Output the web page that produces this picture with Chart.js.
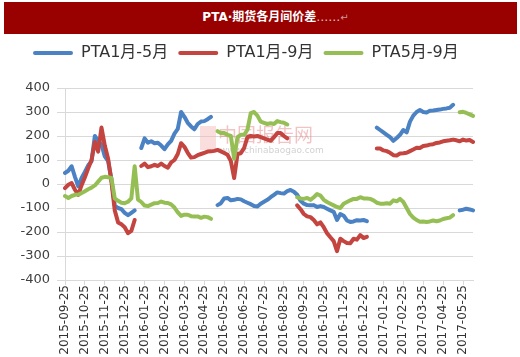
<!DOCTYPE html>
<html><head><meta charset="utf-8">
<script src="https://cdn.jsdelivr.net/npm/chart.js@4.4.0/dist/chart.umd.min.js"></script>
<style>
html,body{margin:0;padding:0;background:#fff;overflow:hidden;}
#wrap{position:relative;width:520px;height:357px;overflow:hidden;}
#banner{position:absolute;left:4px;top:2px;width:513px;height:32px;background:#990000;color:#fff;font:bold 12px "DejaVu Sans","Noto Sans CJK SC",sans-serif;line-height:30px;text-align:center;box-sizing:border-box;padding-left:30px;}
#banner .d{color:#e8c4c4;font-weight:normal;}
#banner .r{color:#c99;font-weight:normal;font-size:10px;}
canvas{position:absolute;left:0;top:0;}
</style></head><body>
<div id="wrap"><canvas id="c" width="520" height="357"></canvas><div id="banner">PTA·期货各月间价差<span class="d">……</span><span class="r">↵</span></div></div>
<script>
const dates = [
'2015-09-25','2015-09-30',
'2015-10-05','2015-10-10','2015-10-15','2015-10-20','2015-10-25','2015-10-30',
'2015-11-05','2015-11-10','2015-11-15','2015-11-20','2015-11-25','2015-11-30',
'2015-12-05','2015-12-10','2015-12-15','2015-12-20','2015-12-25','2015-12-30',
'2016-01-05','2016-01-10','2016-01-15','2016-01-20','2016-01-25','2016-01-30',
'2016-02-05','2016-02-10','2016-02-15','2016-02-20','2016-02-25','2016-02-29',
'2016-03-05','2016-03-10','2016-03-15','2016-03-20','2016-03-25','2016-03-30',
'2016-04-05','2016-04-10','2016-04-15','2016-04-20','2016-04-25','2016-04-30',
'2016-05-05','2016-05-10','2016-05-15','2016-05-20','2016-05-25','2016-05-30',
'2016-06-05','2016-06-10','2016-06-15','2016-06-20','2016-06-25','2016-06-30',
'2016-07-05','2016-07-10','2016-07-15','2016-07-20','2016-07-25','2016-07-30',
'2016-08-05','2016-08-10','2016-08-15','2016-08-20','2016-08-25','2016-08-30',
'2016-09-05','2016-09-10','2016-09-15','2016-09-20','2016-09-25','2016-09-30',
'2016-10-05','2016-10-10','2016-10-15','2016-10-20','2016-10-25','2016-10-30',
'2016-11-05','2016-11-10','2016-11-15','2016-11-20','2016-11-25','2016-11-30',
'2016-12-05','2016-12-10','2016-12-15','2016-12-20','2016-12-25','2016-12-30',
'2017-01-05','2017-01-10','2017-01-15','2017-01-20','2017-01-25','2017-01-30',
'2017-02-05','2017-02-10','2017-02-15','2017-02-20','2017-02-25','2017-02-28',
'2017-03-05','2017-03-10','2017-03-15','2017-03-20','2017-03-25','2017-03-30',
'2017-04-05','2017-04-10','2017-04-15','2017-04-20','2017-04-25','2017-04-30',
'2017-05-05','2017-05-10','2017-05-15','2017-05-20','2017-05-25','2017-05-30',
'2017-06-05','2017-06-10'
];

const tickLabels = [
'2015-09-25','2015-10-25','2015-11-25','2015-12-25','2016-01-25','2016-02-25','2016-03-25',
'2016-04-25','2016-05-25','2016-06-25','2016-07-25','2016-08-25','2016-09-25','2016-10-25',
'2016-11-25','2016-12-25','2017-01-25','2017-02-25','2017-03-25','2017-04-25','2017-05-25'
];

const seriesNames = ['PTA1月-5月','PTA1月-9月','PTA5月-9月'];

const spread1_5 = [
46,55,74,30,-10,25,50,78,95,200,
180,165,115,95,20,-90,-100,-105,-120,-130,
-120,-110,null,150,190,172,178,170,172,160,
145,165,180,210,230,300,280,255,240,228,
250,260,262,270,280,null,-88,-80,-60,-58,
-68,-66,-62,-64,-72,-78,-84,-92,-94,-82,
-74,-66,-55,-45,-35,-38,-40,-30,-25,-32,
-45,-70,-82,-88,-89,-88,-96,-92,-96,-103,
-110,-116,-150,-125,-132,-152,-158,-156,-151,-152,
-150,-155,null,null,235,225,215,205,195,180,
192,205,225,215,260,285,300,308,300,298,
305,306,308,310,313,315,318,330,null,-110,
-107,-103,-106,-110
];

const spread1_9 = [
-17,-3,4,-24,-45,-5,28,65,100,175,
135,235,160,105,10,-110,-160,-168,-180,-205,
-195,-150,null,75,85,70,74,80,75,85,
75,68,90,100,125,170,155,130,110,112,
120,125,130,135,136,138,142,136,129,122,
95,25,125,128,150,195,200,198,200,195,
190,185,180,195,212,212,200,190,null,null,
-89,-105,-125,-135,-138,-150,-168,-160,-180,-205,
-222,-238,-280,-228,-238,-246,-247,-228,-232,-213,
-225,-220,null,null,148,148,140,137,130,120,
119,127,128,130,137,144,151,150,158,160,
164,166,171,173,178,180,182,185,182,178,
185,181,183,175
];

const spread5_9 = [
-50,-58,-50,-45,-44,-38,-30,-22,-15,-6,
10,26,30,28,25,-60,-70,-78,-80,-74,
-60,74,-65,-75,-90,-92,-86,-80,-79,-73,
-78,-79,-85,-98,-118,-133,-128,-128,-134,-135,
-135,-141,-136,-138,-145,null,220,212,212,205,
200,105,195,205,205,226,295,300,285,260,
255,250,253,250,262,258,255,248,null,null,
-55,-60,-62,-58,-66,-55,-42,-48,-66,-75,
-82,-89,-96,-100,-82,-75,-68,-62,-62,-55,
-60,-60,-62,-68,-78,-82,-82,-80,-82,-68,
-72,-62,-75,-100,-125,-140,-150,-157,-156,-158,
-156,-152,-155,-152,-146,-143,-140,-130,null,299,
301,296,290,284
];

const COLORS = ['#4a82c3','#c4443f','#95bf55'];
const FONT = '"DejaVu Sans", "Noto Sans CJK SC", sans-serif';
const GRID = '#d9d9d9';

const legendFix = {
  id: 'legendFix',
  beforeInit(chart) {
    const lg = chart.legend;
    const fit = lg.fit;
    lg.fit = function () { fit.call(this); this.height = 53; };
  },
  afterLayout(chart) {
    chart.legend.left = 23;
    chart.legend.right = 520;
  }
};

const watermark = {
  id: 'watermark',
  beforeDatasetsDraw(chart) {
    const c = chart.ctx;
    c.save();
    c.globalAlpha = 0.45;
    c.fillStyle = '#f3b6b6';
    c.fillRect(200, 126, 16, 24);
    c.fillStyle = '#e07a7a';
    c.font = '19px "Noto Sans CJK SC"';
    c.textBaseline = 'middle';
    c.fillText('中国报告网', 218, 135);
    c.fillStyle = '#9a9a9a';
    c.font = '9px "DejaVu Sans"';
    c.fillText('www.chinabaogao.com', 220, 151);
    c.restore();
  }
};

const isTick = (i) => tickLabels.includes(dates[i]);

new Chart(document.getElementById('c'), {
  type: 'line',
  data: {
    labels: dates,
    datasets: [
      { label: seriesNames[0], data: spread1_5, borderColor: COLORS[0], backgroundColor: COLORS[0], order: 3 },
      { label: seriesNames[1], data: spread1_9, borderColor: COLORS[1], backgroundColor: COLORS[1], order: 2 },
      { label: seriesNames[2], data: spread5_9, borderColor: COLORS[2], backgroundColor: COLORS[2], order: 1 }
    ]
  },
  options: {
    responsive: false,
    animation: false,
    devicePixelRatio: 1,
    spanGaps: false,
    layout: { padding: { left: 0, right: 47, top: 35, bottom: 0 } },
    elements: {
      point: { radius: 0 },
      line: { borderWidth: 4, tension: 0, borderJoinStyle: 'round', borderCapStyle: 'round' }
    },
    plugins: {
      tooltip: { enabled: false },
      legend: {
        position: 'top',
        align: 'start',
        labels: {
          font: { family: FONT, size: 16 },
          color: '#333',
          boxWidth: 40,
          boxHeight: 4,
          padding: 10,
          useBorderRadius: true,
          borderRadius: 2,
          sort: (a, b) => a.datasetIndex - b.datasetIndex,
          generateLabels: (chart) => Chart.defaults.plugins.legend.labels.generateLabels(chart).map(l => {
            l.lineWidth = 0; l.fillStyle = l.strokeStyle; return l;
          })
        }
      }
    },
    scales: {
      x: {
        type: 'category',
        grid: {
          drawOnChartArea: false,
          drawTicks: true,
          tickLength: 5,
          color: (ctx) => (isTick(ctx.index) ? GRID : 'rgba(0,0,0,0)')
        },
        border: { color: GRID },
        ticks: {
          autoSkip: false,
          maxRotation: 90,
          minRotation: 90,
          padding: 0,
          font: { family: FONT, size: 12 },
          color: '#333',
          callback: function (v, i) { return isTick(i) ? dates[i] : ''; }
        },
        afterFit(s) { s.height = 77; }
      },
      y: {
        min: -400,
        max: 400,
        ticks: { stepSize: 100, font: { family: FONT, size: 13 }, color: '#404040', padding: 7 },
        grid: { color: GRID, tickLength: 8 },
        border: { color: GRID },
        afterFit(s) { s.width = 65; }
      }
    }
  },
  plugins: [legendFix, watermark]
});
</script>
</body></html>
